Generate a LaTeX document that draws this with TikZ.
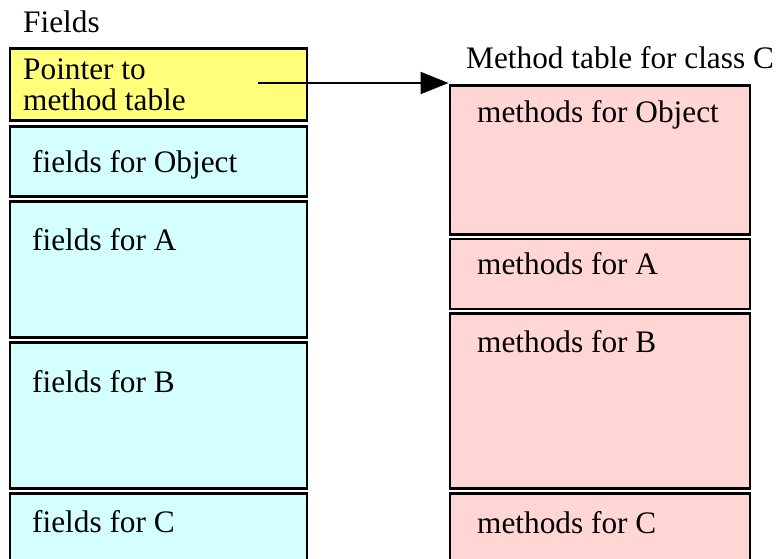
\documentclass[tikz,border=0pt]{standalone}
\usepackage{fontspec}
\setmainfont{Liberation Serif}
\usetikzlibrary{arrows.meta}
\definecolor{ptrfill}{RGB}{255,255,122}
\definecolor{fieldfill}{RGB}{212,255,255}
\definecolor{methfill}{RGB}{255,214,212}
\tikzset{
  cell/.style={draw=black, line width=2.6pt, anchor=north west, inner sep=0pt, minimum width=#1},
  lbl/.style={anchor=base west, inner sep=0pt, font=\fontsize{31.3}{31}\selectfont},
  ptr/.style={line width=2.2pt, -{Triangle[length=28pt, width=22pt]}}
}
\begin{document}
\begin{tikzpicture}[x=1pt, y=-1pt]
\useasboundingbox (0,0) rectangle (776,558);
\clip (0,0) rectangle (776,558);

% object layout
\node[cell=297pt, fill=ptrfill,   minimum height=72pt]  (fptr) at (8.5,47) {};
\node[cell=297pt, fill=fieldfill, minimum height=70pt]  (fobj) at (8.5,125) {};
\node[cell=297pt, fill=fieldfill, minimum height=136pt] (fa)   at (8.5,200) {};
\node[cell=297pt, fill=fieldfill, minimum height=146pt] (fb)   at (8.5,341) {};
\node[cell=297pt, fill=fieldfill, minimum height=110pt] (fc)   at (8.5,492) {};

% method table
\node[cell=300pt, fill=methfill, minimum height=149pt] (mobj) at (448.5,84) {};
\node[cell=300pt, fill=methfill, minimum height=70pt]  (ma)   at (448.5,237.5) {};
\node[cell=300pt, fill=methfill, minimum height=175pt] (mb)   at (448.5,312) {};
\node[cell=300pt, fill=methfill, minimum height=110pt] (mc)   at (448.5,492) {};

% labels
\node[lbl] (tfields) at (23,32) {Fields};
\node[lbl] (tptr1) at (23,79) {Pointer to};
\node[lbl] (tptr2) at (23,110) {method table};
\node[lbl] (tfobj) at (32,172) {fields for Object};
\node[lbl] (tfa) at (32,250) {fields for A};
\node[lbl] (tfb) at (32,392) {fields for B};
\node[lbl] (tfc) at (32,532) {fields for C};

\node[lbl] (tmtab) at (466,68) {Method table for class C};
\node[lbl] (tmobj) at (477,122) {methods for Object};
\node[lbl] (tma) at (477,274) {methods for A};
\node[lbl] (tmb) at (477,352) {methods for B};
\node[lbl] (tmc) at (477,533) {methods for C};

% pointer from the object header to the method table
\coordinate (src) at (258,83);
\draw[ptr] (src) -- (src -| mobj.north west);
\end{tikzpicture}
\end{document}
